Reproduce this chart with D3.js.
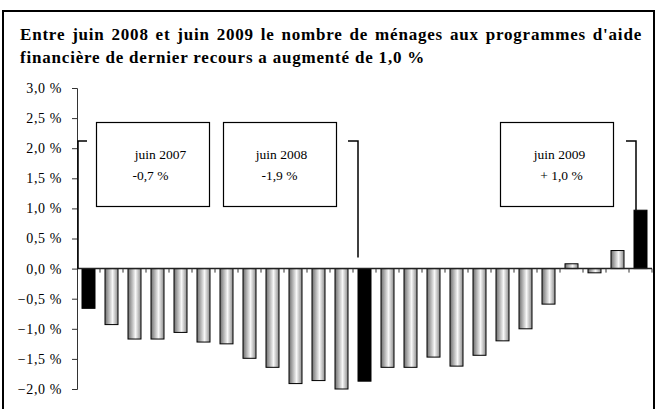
<!DOCTYPE html>
<html>
<head>
<meta charset="utf-8">
<script src="https://cdn.jsdelivr.net/npm/d3@7"></script>
<style>
  body { margin: 0; background: #fff; }
  svg { display: block; font-family: "Liberation Serif", "Times New Roman", serif; }
</style>
</head>
<body>
<div id="chart"></div>
<script>
// monthly variation, juin 2007 -> juin 2009
const months = ["2007-06", "2007-07", "2007-08", "2007-09", "2007-10", "2007-11", "2007-12",
  "2008-01", "2008-02", "2008-03", "2008-04", "2008-05", "2008-06", "2008-07", "2008-08",
  "2008-09", "2008-10", "2008-11", "2008-12", "2009-01", "2009-02", "2009-03", "2009-04",
  "2009-05", "2009-06"];
const values = [-0.66, -0.93, -1.17, -1.17, -1.06, -1.22, -1.25, -1.49, -1.64, -1.91, -1.86,
  -2.0, -1.87, -1.64, -1.64, -1.47, -1.62, -1.44, -1.2, -1.0, -0.59, 0.08, -0.07, 0.3, 0.97];
const highlighted = ["2007-06", "2008-06", "2009-06"];
const yTicks = [-2, -1.5, -1, -0.5, 0, 0.5, 1, 1.5, 2, 2.5, 3];
const calloutMonths = ["2007-06", "2008-06", "2009-06"];
const calloutLines = [["juin 2007", "-0,7 %"], ["juin 2008", "-1,9 %"], ["juin 2009", "+ 1,0 %"]];
const titleLines = [
  "Entre juin 2008 et juin 2009 le nombre de ménages aux programmes d'aide",
  "financière de dernier recours a augmenté de 1,0 %"
];

const width = 657, height = 409;

const svg = d3.select("#chart").append("svg")
  .attr("width", width)
  .attr("height", height);

const defs = svg.append("defs");
const grad = defs.append("linearGradient")
  .attr("id", "barGrad")
  .attr("x1", "0%").attr("x2", "100%").attr("y1", "0%").attr("y2", "0%");
grad.append("stop").attr("offset", "0%").attr("stop-color", "#6e6e6e");
grad.append("stop").attr("offset", "58%").attr("stop-color", "#f8f8f8");
grad.append("stop").attr("offset", "100%").attr("stop-color", "#8c8c8c");

// outer frame (bottom edge runs off the picture)
svg.append("rect")
  .attr("x", 3).attr("y", 11)
  .attr("width", 651).attr("height", 402)
  .attr("fill", "none")
  .attr("stroke", "#000")
  .attr("stroke-width", 2);

// title, first line justified
const titleX = 20, titleRight = 642;
const t1 = svg.append("text")
  .attr("y", 40)
  .style("font-size", "17px")
  .style("font-weight", "bold")
  .style("letter-spacing", "0.8px");
const words = titleLines[0].split(" ");
const tspans = words.map(w => t1.append("tspan").text(w));
const wordW = tspans.map(s => s.node().getComputedTextLength());
const gap = (titleRight - titleX - d3.sum(wordW)) / (words.length - 1);
let cx = titleX;
tspans.forEach((s, i) => { s.attr("x", cx); cx += wordW[i] + gap; });

svg.append("text")
  .attr("x", titleX).attr("y", 63)
  .style("font-size", "17px")
  .style("font-weight", "bold")
  .style("letter-spacing", "0.8px")
  .text(titleLines[1]);

// scales
const x = d3.scaleBand()
  .domain(months)
  .range([77, 652])
  .paddingInner(0.435)
  .paddingOuter(0.2175);

const y = d3.scaleLinear()
  .domain([-2, 3])
  .range([389, 88]);

const fr = d3.formatLocale({ decimal: ",", thousands: " ", grouping: [3], currency: ["", " €"] });
const fmt = fr.format(".1f");

// y axis
const yAxis = svg.append("g")
  .attr("transform", "translate(77,0)")
  .call(d3.axisLeft(y).tickValues(yTicks).tickSize(5).tickPadding(10)
    .tickFormat(d => fmt(d) + " %"));
yAxis.select(".domain").attr("stroke", "#333");
yAxis.selectAll(".tick line").attr("stroke", "#333");
yAxis.selectAll(".tick text")
  .style("font-size", "14px")
  .style("letter-spacing", "0.6px")
  .style("font-family", "Liberation Serif, serif")
  .attr("fill", "#000");

// bars
svg.append("g")
  .selectAll("rect")
  .data(values)
  .join("rect")
  .attr("x", (d, i) => x(months[i]))
  .attr("width", x.bandwidth())
  .attr("y", d => y(Math.max(0, d)))
  .attr("height", d => Math.abs(y(d) - y(0)))
  .attr("fill", (d, i) => highlighted.includes(months[i]) ? "#000" : "url(#barGrad)")
  .attr("stroke", "#000")
  .attr("stroke-width", 1);

// x axis at zero with ticks at category boundaries
svg.append("line")
  .attr("x1", 77).attr("x2", 652)
  .attr("y1", y(0)).attr("y2", y(0))
  .attr("stroke", "#222")
  .attr("stroke-width", 1.5);
svg.append("g")
  .selectAll("line")
  .data(months)
  .join("line")
  .attr("x1", d => x(d) + x.bandwidth() / 2 + x.step() / 2)
  .attr("x2", d => x(d) + x.bandwidth() / 2 + x.step() / 2)
  .attr("y1", y(0))
  .attr("y2", y(0) + 4)
  .attr("stroke", "#333");

// callouts
const boxX = [96, 223, 500];
const boxY = 122, boxW = 113, boxH = 84;
const leaderDx = [-4, 0, 2];
const leaderEnd = [y(0), y(0) - 11, null];
const textShift = [[8, -2], [2, 0], [3, 5]];

calloutMonths.forEach((m, i) => {
  const g = svg.append("g");
  g.append("rect")
    .attr("x", boxX[i] + 0.5).attr("y", boxY + 0.5)
    .attr("width", boxW).attr("height", boxH)
    .attr("fill", "#fff")
    .attr("stroke", "#000")
    .attr("stroke-width", 1.2);
  calloutLines[i].forEach((ln, j) => {
    g.append("text")
      .attr("x", boxX[i] + boxW / 2 + textShift[i][j])
      .attr("y", 159 + j * 21)
      .attr("text-anchor", "middle")
      .style("font-size", "13.5px")
      .text(ln);
  });
  // leader
  const lx = x(m) + leaderDx[i];
  const v = values[months.indexOf(m)];
  const yEnd = leaderEnd[i] !== null ? leaderEnd[i] : y(v);
  const hx = i === 0 ? lx + 9 : lx - 10;
  g.append("path")
    .attr("d", `M${hx},${boxY + 19}H${lx}V${yEnd}`)
    .attr("fill", "none")
    .attr("stroke", "#000")
    .attr("stroke-width", 1.5);
});
</script>
</body>
</html>
